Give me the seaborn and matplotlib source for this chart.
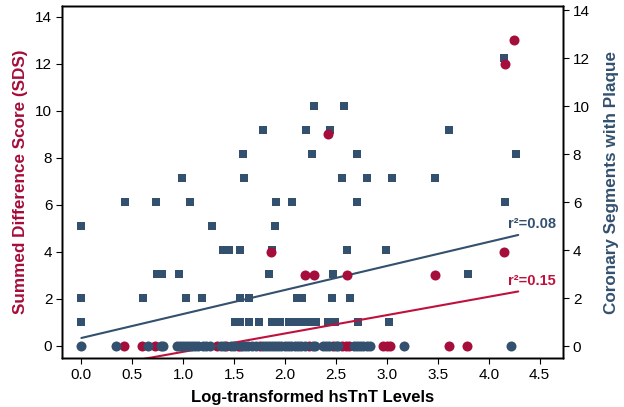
import numpy as np
import pandas as pd
import matplotlib.pyplot as plt
import seaborn as sns

sns.set_theme(style="ticks")
plt.rcParams['font.family'] = ['Liberation Sans', 'DejaVu Sans']

# ---------------- data ----------------
# coronary segments with plaque (right axis), non-zero values -> squares
seg_x = [4.15,
         2.28, 2.58,
         1.78, 2.21, 2.44, 3.61,
         1.59, 2.26, 2.71, 4.27,
         0.99, 1.60, 2.56, 2.80, 3.05, 3.47,
         0.43, 0.73, 1.07, 1.91, 2.07, 2.71, 4.16,
         0.00, 1.28, 1.90,
         1.39, 1.45, 1.56, 1.87, 2.61, 2.99,
         0.74, 0.79, 0.96, 1.84, 2.47, 3.80,
         0.00, 0.61, 1.03, 1.18, 1.56, 1.65, 2.12, 2.17, 2.46, 2.64,
         0.00, 1.51, 1.56, 1.65, 1.74, 1.87, 1.95, 2.04, 2.12, 2.17,
         2.25, 2.30, 2.42, 2.49, 2.72, 3.02]
seg_y = [12,
         10, 10,
         9, 9, 9, 9,
         8, 8, 8, 8,
         7, 7, 7, 7, 7, 7,
         6, 6, 6, 6, 6, 6, 6,
         5, 5, 5,
         4, 4, 4, 4, 4, 4,
         3, 3, 3, 3, 3, 3,
         2, 2, 2, 2, 2, 2, 2, 2, 2, 2,
         1, 1, 1, 1, 1, 1, 1, 1, 1, 1,
         1, 1, 1, 1, 1, 1]

# segments == 0 -> circles
seg_zero_x = [0.00, 0.34, 0.65, 0.78, 0.80, 0.94, 0.97, 1.00, 1.03, 1.06,
              1.09, 1.12, 1.15, 1.19, 1.22, 1.26, 1.37, 1.40, 1.47, 1.50,
              1.58, 1.61, 1.64, 1.68, 1.71, 1.78, 1.81, 1.84, 1.87, 1.90,
              1.93, 1.96, 2.00, 2.03, 2.06, 2.10, 2.13, 2.16, 2.20, 2.27,
              2.29, 2.37, 2.40, 2.43, 2.50, 2.52, 2.68, 2.71, 2.74, 2.77,
              2.80, 2.83, 3.17, 4.22]

# summed difference score (left axis)
sds_x = [1.86, 2.20, 2.28, 2.42, 2.61, 3.47, 4.15, 4.16, 4.25,
         0.42, 0.60, 0.72, 1.33, 1.42, 1.54, 1.56, 1.75, 2.24, 2.47,
         2.56, 2.60, 2.63, 2.96, 3.00, 3.03, 3.61, 3.79]
sds_y = [4, 3, 3, 9, 3, 3, 4, 12, 13,
         0, 0, 0, 0, 0, 0, 0, 0, 0, 0,
         0, 0, 0, 0, 0, 0, 0, 0]

# fitted lines (intercept, slope) and x range
fit_x = [0.0, 4.29]
sds_fit = [-1.03, 0.78]
seg_fit = [0.35, 1.0]
sds_r2 = "r\u00b2=0.15"
seg_r2 = "r\u00b2=0.08"

red = "#A50D3A"
red_line = "#C0103C"
blue = "#33506F"

fig = plt.figure(figsize=(6.24, 4.07), dpi=100)
ax_seg = fig.add_axes([0.0994, 0.120, 0.8029, 0.865])
ax_sds = ax_seg.twinx()
ax_zero = ax_seg.twinx()

# draw order: squares < red circles < zero circles
ax_seg.set_zorder(1)
ax_sds.set_zorder(2)
ax_zero.set_zorder(3)
ax_sds.patch.set_visible(False)
ax_zero.patch.set_visible(False)

fx = np.array(fit_x)

# segments (right scale)
sns.scatterplot(x=seg_x, y=seg_y, ax=ax_seg, marker='s', color=blue, s=34,
                linewidth=0)
sns.lineplot(x=fx, y=seg_fit[0] + seg_fit[1] * fx, ax=ax_seg, color=blue, lw=1.5)

# SDS (left scale)
sns.lineplot(x=fx, y=sds_fit[0] + sds_fit[1] * fx, ax=ax_sds, color=red_line, lw=1.5)
sns.scatterplot(x=sds_x, y=sds_y, ax=ax_sds, marker='o', color=red, s=52,
                linewidth=0)

# zero segments
sns.scatterplot(x=seg_zero_x, y=[0] * len(seg_zero_x), ax=ax_zero, marker='o',
                color=blue, s=52, linewidth=0)

ax_seg.set_xlim(-0.19, 4.73)
ax_seg.set_ylim(-0.49, 14.17)
ax_zero.set_ylim(-0.49, 14.17)
ax_sds.set_ylim(-0.52, 14.45)

# axis sides: left = SDS, right = segments
ax_sds.yaxis.tick_left()
ax_sds.yaxis.set_label_position("left")
ax_seg.yaxis.tick_right()
ax_seg.yaxis.set_label_position("right")
ax_zero.set_yticks([])

ax_seg.set_xticks(np.arange(0, 4.6, 0.5))
ax_seg.set_xticklabels([f"{v:.1f}" for v in np.arange(0, 4.6, 0.5)])
ax_seg.set_yticks(range(0, 15, 2))
ax_sds.set_yticks(range(0, 15, 2))

for a in (ax_seg, ax_sds):
    a.tick_params(labelsize=11, length=4, width=0.8, colors='black', pad=3)
for a in (ax_seg, ax_sds, ax_zero):
    for sp in a.spines.values():
        sp.set_color('black')
        sp.set_linewidth(1.0)
        sp.set_visible(True)

ax_seg.set_xlabel("Log-transformed hsTnT Levels", fontsize=12, fontweight='bold',
                  color='black', labelpad=6)
ax_sds.set_ylabel("Summed Difference Score (SDS)", fontsize=12.3, fontweight='bold',
                  color=red, labelpad=5)
ax_seg.set_ylabel("Coronary Segments with Plaque", fontsize=12.3, fontweight='bold',
                  color=blue, labelpad=10)

ax_seg.text(4.66, 5.1, seg_r2, color=blue, fontsize=10.5, fontweight='bold',
            ha='right', va='center')
ax_sds.text(4.66, 2.75, sds_r2, color=red_line, fontsize=10.5, fontweight='bold',
            ha='right', va='center')

fig.savefig("out.png", dpi=100)
